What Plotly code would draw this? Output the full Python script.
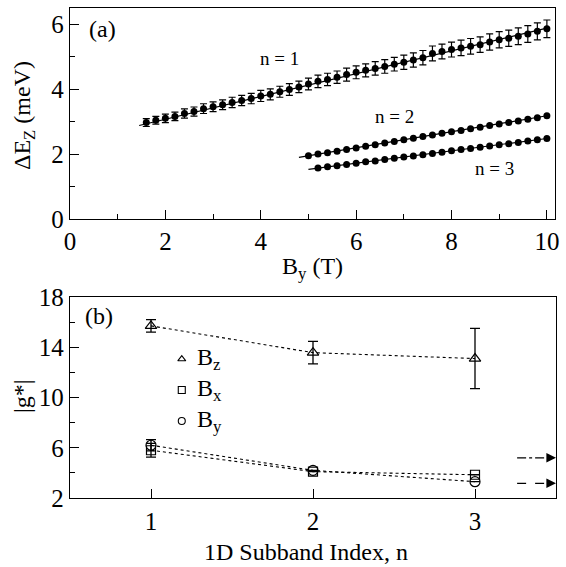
import plotly.graph_objects as go

# ---------------- Panel (a) data ----------------
b1 = [1.6, 1.8, 2.0, 2.2, 2.4, 2.6, 2.8, 3.0, 3.2, 3.4, 3.6, 3.8, 4.0, 4.2, 4.4, 4.6, 4.8,
      5.0, 5.2, 5.4, 5.6, 5.8, 6.0, 6.2, 6.4, 6.6, 6.8, 7.0, 7.2, 7.4, 7.6, 7.8, 8.0, 8.2,
      8.4, 8.6, 8.8, 9.0, 9.2, 9.4, 9.6, 9.8, 10.0]
e1 = [2.97, 3.04, 3.10, 3.16, 3.25, 3.31, 3.40, 3.46, 3.52, 3.59, 3.65, 3.71, 3.79, 3.84,
      3.92, 3.99, 4.07, 4.16, 4.24, 4.30, 4.37, 4.45, 4.52, 4.58, 4.64, 4.70, 4.77, 4.83,
      4.90, 4.97, 5.10, 5.16, 5.22, 5.27, 5.32, 5.37, 5.45, 5.52, 5.57, 5.63, 5.70, 5.78, 5.86]
err1 = [0.12, 0.12, 0.13, 0.13, 0.14, 0.14, 0.15, 0.15, 0.15, 0.16, 0.16, 0.16, 0.17, 0.17,
        0.17, 0.18, 0.18, 0.18, 0.19, 0.19, 0.19, 0.20, 0.20, 0.20, 0.21, 0.21, 0.21, 0.22,
        0.22, 0.22, 0.23, 0.23, 0.23, 0.24, 0.24, 0.24, 0.25, 0.25, 0.25, 0.26, 0.26, 0.26, 0.27]

b2 = [5.0, 5.2, 5.4, 5.6, 5.8, 6.0, 6.2, 6.4, 6.6, 6.8, 7.0, 7.2, 7.4, 7.6, 7.8, 8.0, 8.2,
      8.4, 8.6, 8.8, 9.0, 9.2, 9.4, 9.6, 9.8, 10.0]
e2 = [1.95, 2.00, 2.04, 2.09, 2.14, 2.19, 2.24, 2.29, 2.34, 2.39, 2.44, 2.49, 2.54, 2.59,
      2.64, 2.69, 2.73, 2.78, 2.83, 2.88, 2.93, 2.97, 3.02, 3.07, 3.12, 3.18]

b3 = [5.2, 5.4, 5.6, 5.8, 6.0, 6.2, 6.4, 6.6, 6.8, 7.0, 7.2, 7.4, 7.6, 7.8, 8.0, 8.2,
      8.4, 8.6, 8.8, 9.0, 9.2, 9.4, 9.6, 9.8, 10.0]
e3 = [1.57, 1.61, 1.64, 1.68, 1.72, 1.76, 1.79, 1.83, 1.87, 1.91, 1.94, 1.98, 2.02, 2.06,
      2.10, 2.14, 2.17, 2.21, 2.25, 2.29, 2.32, 2.36, 2.40, 2.44, 2.48]

fit1_x, fit1_y = [1.45, 10.0], [2.88, 5.88]
fit2_x, fit2_y = [4.8, 10.0], [1.90, 3.18]
fit3_x, fit3_y = [5.0, 10.0], [1.53, 2.48]

# ---------------- Panel (b) data ----------------
n_idx = [1, 2, 3]
g_bz = [15.7, 13.57, 13.1]
g_bz_err = [0.5, 0.9, 2.4]
g_bx = [5.8, 4.1, 3.85]
g_bx_err = [0.55, 0.0, 0.0]
g_by = [6.2, 4.2, 3.3]
g_by_err = [0.45, 0.0, 0.0]

arrow_x = [3.26, 3.5]
arrow_dashdot_y = 5.2
arrow_dash_y = 3.17

leg_labels = ["B<sub>z</sub>", "B<sub>x</sub>", "B<sub>y</sub>"]
leg_syms = ["triangle-up-open", "square-open", "circle-open"]
leg_x = 1.19
leg_y = [13.06, 10.6, 8.13]

FONT = "Liberation Serif, Times New Roman, serif"
BLACK = "#000000"
W, H = 566, 567

fig = go.Figure()

for fx, fy in [(fit1_x, fit1_y), (fit2_x, fit2_y), (fit3_x, fit3_y)]:
    fig.add_trace(go.Scatter(x=fx, y=fy, mode="lines", line=dict(color=BLACK, width=1.2),
                             showlegend=False, xaxis="x", yaxis="y"))

fig.add_trace(go.Scatter(x=b1, y=e1, mode="markers",
                         marker=dict(color=BLACK, size=7, symbol="circle"),
                         error_y=dict(type="data", array=err1, color=BLACK, thickness=1.2, width=3.5),
                         showlegend=False, xaxis="x", yaxis="y"))
fig.add_trace(go.Scatter(x=b2, y=e2, mode="markers",
                         marker=dict(color=BLACK, size=7, symbol="circle"),
                         showlegend=False, xaxis="x", yaxis="y"))
fig.add_trace(go.Scatter(x=b3, y=e3, mode="markers",
                         marker=dict(color=BLACK, size=7, symbol="circle"),
                         showlegend=False, xaxis="x", yaxis="y"))

for ys, es, sym, sz in [(g_bz, g_bz_err, "triangle-up-open", 10),
                        (g_bx, g_bx_err, "square-open", 9),
                        (g_by, g_by_err, "circle-open", 10)]:
    fig.add_trace(go.Scatter(x=n_idx, y=ys, mode="lines+markers",
                             line=dict(color=BLACK, width=1.1, dash="dot"),
                             marker=dict(symbol=sym, size=sz, color=BLACK, line=dict(width=1.2, color=BLACK)),
                             error_y=dict(type="data", array=es, color=BLACK, thickness=1.3, width=5),
                             showlegend=False, xaxis="x2", yaxis="y2"))

fig.add_trace(go.Scatter(x=[arrow_x[0], arrow_x[1] - 0.05], y=[arrow_dashdot_y, arrow_dashdot_y],
                         mode="lines", line=dict(color=BLACK, width=1.2, dash="dashdot"),
                         showlegend=False, xaxis="x2", yaxis="y2"))
fig.add_trace(go.Scatter(x=[arrow_x[0], arrow_x[1] - 0.05], y=[arrow_dash_y, arrow_dash_y],
                         mode="lines", line=dict(color=BLACK, width=1.2, dash="dash"),
                         showlegend=False, xaxis="x2", yaxis="y2"))

fig.add_trace(go.Scatter(x=[leg_x] * 3, y=leg_y, mode="markers",
                         marker=dict(symbol=leg_syms, size=7, color=BLACK,
                                     line=dict(width=1.1, color=BLACK)),
                         showlegend=False, xaxis="x2", yaxis="y2"))

annotations = []
for yy in [arrow_dashdot_y, arrow_dash_y]:
    annotations.append(dict(x=arrow_x[1], y=yy, xref="x2", yref="y2",
                            ax=arrow_x[1] - 0.06, ay=yy, axref="x2", ayref="y2",
                            showarrow=True, arrowhead=2, arrowsize=1.6, arrowwidth=1.2,
                            arrowcolor=BLACK, text=""))

for lab, yy in zip(leg_labels, leg_y):
    annotations.append(dict(x=leg_x + 0.08, y=yy, xref="x2", yref="y2",
                            text=lab, showarrow=False, xanchor="left", yanchor="middle",
                            font=dict(family=FONT, size=24, color=BLACK)))

texts = [
    dict(x=0.35, y=5.85, xref="x", yref="y", text="(a)", size=24, anchor="left"),
    dict(x=4.4, y=4.95, xref="x", yref="y", text="n = 1", size=19, anchor="center"),
    dict(x=6.8, y=3.15, xref="x", yref="y", text="n = 2", size=19, anchor="center"),
    dict(x=8.9, y=1.55, xref="x", yref="y", text="n = 3", size=19, anchor="center"),
    dict(x=0.58, y=16.5, xref="x2", yref="y2", text="(b)", size=24, anchor="left"),
]
for t in texts:
    annotations.append(dict(x=t["x"], y=t["y"], xref=t["xref"], yref=t["yref"], text=t["text"],
                            xanchor=t["anchor"], showarrow=False,
                            font=dict(family=FONT, size=t["size"], color=BLACK)))

titles = [
    dict(text="B<sub>y</sub> (T)", px=(70 + 555) / 2, py=268, angle=0, size=24),
    dict(text="1D Subband Index, n", px=(70 + 556) / 2 - 7, py=552, angle=0, size=24),
    dict(text="ΔE<sub>Z</sub> (meV)", px=24, py=116, angle=-90, size=24),
    dict(text="|g*|", px=22, py=396, angle=-90, size=24),
]
for t in titles:
    annotations.append(dict(x=t["px"] / W, y=1 - t["py"] / H, xref="paper", yref="paper",
                            text=t["text"], showarrow=False, xanchor="center", yanchor="middle",
                            textangle=t["angle"],
                            font=dict(family=FONT, size=t["size"], color=BLACK)))

axis_common = dict(showline=True, linecolor=BLACK, linewidth=1.3, mirror=True,
                   ticks="inside", ticklen=9, tickwidth=1.2, tickcolor=BLACK,
                   showgrid=False, zeroline=False, automargin=False,
                   tickfont=dict(family=FONT, size=25, color=BLACK))
minor_common = dict(ticks="inside", ticklen=5, tickcolor=BLACK, tickwidth=1.2)

fig.update_layout(
    width=W, height=H,
    margin=dict(l=0, r=0, t=0, b=0, autoexpand=False),
    paper_bgcolor="white", plot_bgcolor="white",
    font=dict(family=FONT, color=BLACK),
    showlegend=False,
    xaxis=dict(domain=[70 / W, 555 / W], range=[0, 10.17], tickvals=[0, 2, 4, 6, 8, 10],
               minor=dict(tickvals=[1, 3, 5, 7, 9], **minor_common),
               anchor="y", **axis_common),
    yaxis=dict(domain=[1 - 219 / H, 1 - 8 / H], range=[0, 6.5], tickvals=[0, 2, 4, 6],
               minor=dict(tickvals=[1, 3, 5], **minor_common),
               anchor="x", **axis_common),
    xaxis2=dict(domain=[70 / W, 556 / W], range=[0.5, 3.5], tickvals=[1, 2, 3], anchor="y2",
                ticklabelstandoff=1, **axis_common),
    yaxis2=dict(domain=[1 - 498 / H, 1 - 297 / H], range=[2, 18], tickvals=[2, 6, 10, 14, 18],
                minor=dict(tickvals=[4, 8, 12, 16], **minor_common),
                anchor="x2", **axis_common),
    annotations=annotations,
)

fig.write_html("out.html")
